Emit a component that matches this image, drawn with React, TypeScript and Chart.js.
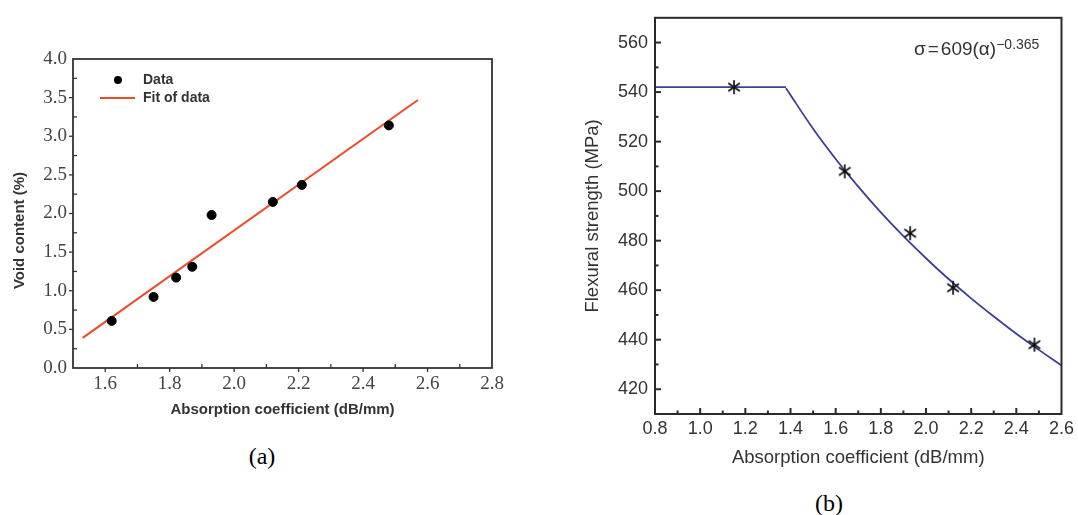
import React, { useEffect, useRef } from 'react';
import { Chart, registerables } from 'chart.js';
Chart.register(...registerables);

// ---------- Panel (a): void content vs absorption coefficient ----------
const voidAbsorption = [1.62, 1.75, 1.82, 1.87, 1.93, 2.12, 2.21, 2.48];
const voidContent = [0.61, 0.92, 1.17, 1.31, 1.98, 2.15, 2.37, 3.14];
const fitAbsorption = [1.53, 2.57];
const fitVoid = [0.39, 3.47];
const voidXTicks = [1.6, 1.8, 2.0, 2.2, 2.4, 2.6, 2.8];
const voidYTicks = [0, 0.5, 1.0, 1.5, 2.0, 2.5, 3.0, 3.5, 4.0];

// ---------- Panel (b): flexural strength vs absorption coefficient ----------
const strengthAbsorption = [1.15, 1.64, 1.93, 2.12, 2.48];
const strengthValues = [542, 508, 483, 461, 438];
const plateauAbsorption = [0.8, 1.38];
const plateauStrength = [542, 542];
const curveAbsorption = [1.38, 1.5, 1.6, 1.7, 1.8, 1.9, 2.0, 2.1, 2.2, 2.3, 2.4, 2.5, 2.6];
const curveStrength = [541.6, 525.2, 513.0, 501.8, 491.4, 481.8, 472.9, 464.5, 456.7, 449.4, 442.4, 435.9, 429.6];
const strengthXTicks = [0.8, 1.0, 1.2, 1.4, 1.6, 1.8, 2.0, 2.2, 2.4, 2.6];
const strengthYTicks = [420, 440, 460, 480, 500, 520, 540, 560];

const pts = (xs: number[], ys: number[]) => xs.map((x, i) => ({ x, y: ys[i] }));

type TickSpec = { step: number; majorEvery: number; majorLen: number; minorLen: number; majorOut: boolean; minorOut: boolean };

function framePlugin(id: string, color: string, width: number, xs: TickSpec, ys: TickSpec, tickWidth: number) {
  return {
    id,
    afterDraw(chart: any) {
      const { ctx, chartArea: a, scales } = chart;
      ctx.save();
      ctx.strokeStyle = color;
      ctx.lineWidth = tickWidth;
      ctx.lineCap = 'butt';
      const xsScale = scales.x;
      const ysScale = scales.y;
      const i0 = Math.ceil(xsScale.min / xs.step - 1e-6);
      const i1 = Math.floor(xsScale.max / xs.step + 1e-6);
      for (let i = i0; i <= i1; i++) {
        const v = i * xs.step;
        const px = xsScale.getPixelForValue(v);
        if (px <= a.left + 1 || px >= a.right - 1) continue;
        const major = i % xs.majorEvery === 0;
        const len = major ? xs.majorLen : xs.minorLen;
        const out = major ? xs.majorOut : xs.minorOut;
        ctx.beginPath();
        ctx.moveTo(px, a.bottom);
        ctx.lineTo(px, out ? a.bottom + len : a.bottom - len);
        ctx.stroke();
      }
      const j0 = Math.ceil(ysScale.min / ys.step - 1e-6);
      const j1 = Math.floor(ysScale.max / ys.step + 1e-6);
      for (let j = j0; j <= j1; j++) {
        const v = j * ys.step;
        const py = ysScale.getPixelForValue(v);
        if (py <= a.top + 1 || py >= a.bottom - 1) continue;
        const major = j % ys.majorEvery === 0;
        const len = major ? ys.majorLen : ys.minorLen;
        const out = major ? ys.majorOut : ys.minorOut;
        ctx.beginPath();
        ctx.moveTo(a.left, py);
        ctx.lineTo(out ? a.left - len : a.left + len, py);
        ctx.stroke();
      }
      ctx.lineWidth = width;
      ctx.strokeRect(a.left, a.top, a.right - a.left, a.bottom - a.top);
      ctx.restore();
    },
  };
}

const legendA = {
  id: 'legendA',
  afterDraw(chart: any) {
    const { ctx, chartArea: a } = chart;
    const ds = chart.data.datasets;
    ctx.save();
    ctx.fillStyle = ds[0].backgroundColor;
    ctx.beginPath();
    ctx.arc(a.left + 45, a.top + 21, 4, 0, Math.PI * 2);
    ctx.fill();
    ctx.strokeStyle = ds[1].borderColor;
    ctx.lineWidth = 2;
    ctx.beginPath();
    ctx.moveTo(a.left + 27, a.top + 39);
    ctx.lineTo(a.left + 62, a.top + 39);
    ctx.stroke();
    ctx.fillStyle = '#333';
    ctx.font = 'bold 14px "Liberation Sans", Arial, sans-serif';
    ctx.textBaseline = 'middle';
    ctx.fillText(ds[0].label, a.left + 70, a.top + 21);
    ctx.fillText(ds[1].label, a.left + 70, a.top + 39);
    // y axis title (sits slightly below the axis centre, as in the original)
    ctx.translate(20, a.top + (a.bottom - a.top) * 0.555);
    ctx.rotate(-Math.PI / 2);
    ctx.textAlign = 'center';
    ctx.font = 'bold 15px "Liberation Sans", Arial, sans-serif';
    ctx.fillText('Void content (%)', 0, 0);
    ctx.restore();
  },
};

function makeAsterisk(size: number, color: string, lw: number) {
  const c = document.createElement('canvas');
  c.width = size;
  c.height = size;
  const g = c.getContext('2d')!;
  const r = size / 2 - 1;
  const cx = size / 2;
  const cy = size / 2;
  g.strokeStyle = color;
  g.lineWidth = lw;
  g.lineCap = 'butt';
  const angles = [90, 35, -35];
  for (const deg of angles) {
    const t = (deg * Math.PI) / 180;
    g.beginPath();
    g.moveTo(cx - r * Math.cos(t), cy - r * Math.sin(t));
    g.lineTo(cx + r * Math.cos(t), cy + r * Math.sin(t));
    g.stroke();
  }
  return c;
}

export default function App() {
  const refA = useRef<HTMLCanvasElement>(null);
  const refB = useRef<HTMLCanvasElement>(null);

  useEffect(() => {
    document.body.style.margin = '0';
    const serifTick = { family: '"Liberation Serif", "Times New Roman", serif', size: 19 };
    const sansBold = { family: '"Liberation Sans", Arial, sans-serif', size: 15, weight: 'bold' as const };

    const chartA = new Chart(refA.current!, {
      type: 'scatter',
      data: {
        datasets: [
          {
            label: 'Data',
            data: pts(voidAbsorption, voidContent),
            backgroundColor: '#000',
            borderColor: '#000',
            pointRadius: 4.5,
            showLine: false,
          },
          {
            label: 'Fit of data',
            data: pts(fitAbsorption, fitVoid),
            borderColor: '#ec4a2c',
            backgroundColor: '#ec4a2c',
            borderWidth: 2,
            pointRadius: 0,
            showLine: true,
          },
        ],
      },
      options: {
        animation: false,
        responsive: false,
        devicePixelRatio: 1,
        layout: { padding: { left: 0, right: 48, top: 59, bottom: 0 } },
        plugins: { legend: { display: false }, tooltip: { enabled: false } },
        scales: {
          x: {
            type: 'linear',
            min: 1.5,
            max: 2.8,
            afterBuildTicks: (s: any) => { s.ticks = voidXTicks.map((value) => ({ value })); },
            afterFit: (s: any) => { s.height = 62; },
            grid: { display: false, drawTicks: false },
            border: { display: false },
            ticks: { font: serifTick, color: '#444', padding: 5, maxRotation: 0, autoSkip: false, callback: (v: any) => Number(v).toFixed(1) },
            title: { display: true, text: 'Absorption coefficient (dB/mm)', font: sansBold, color: '#333', padding: { top: 0, bottom: 11 } },
          },
          y: {
            type: 'linear',
            min: 0,
            max: 4,
            afterBuildTicks: (s: any) => { s.ticks = voidYTicks.map((value) => ({ value })); },
            afterFit: (s: any) => { s.width = 73; },
            grid: { display: false, drawTicks: false },
            border: { display: false },
            ticks: { font: serifTick, color: '#444', padding: 6, autoSkip: false, callback: (v: any) => Number(v).toFixed(1) },
            title: { display: false },
          },
        },
      },
      plugins: [
        framePlugin('frameA', '#333', 1.8, { step: 0.1, majorEvery: 2, majorLen: 4, minorLen: 4, majorOut: true, minorOut: false }, { step: 0.25, majorEvery: 2, majorLen: 4, minorLen: 4, majorOut: true, minorOut: false }, 1.3),
        legendA,
      ],
    } as any);

    const sansTick = { family: '"Liberation Sans", Arial, sans-serif', size: 18 };
    const sansTitle = { family: '"Liberation Sans", Arial, sans-serif', size: 18.5 };
    const asterisk = makeAsterisk(16, '#111', 1.7);

    const chartB = new Chart(refB.current!, {
      type: 'scatter',
      data: {
        datasets: [
          {
            label: 'Measured',
            data: pts(strengthAbsorption, strengthValues),
            pointStyle: asterisk,
            pointRadius: 8,
            borderColor: '#111',
            backgroundColor: '#111',
            showLine: false,
          },
          {
            label: 'Plateau',
            data: pts(plateauAbsorption, plateauStrength),
            borderColor: '#3b3f96',
            borderWidth: 1.8,
            pointRadius: 0,
            showLine: true,
          },
          {
            label: 'Power law',
            data: pts(curveAbsorption, curveStrength),
            borderColor: '#3b3f96',
            borderWidth: 1.8,
            pointRadius: 0,
            showLine: true,
            tension: 0.4,
          },
        ],
      },
      options: {
        animation: false,
        responsive: false,
        devicePixelRatio: 1,
        layout: { padding: { left: 0, right: 15, top: 15, bottom: 0 } },
        plugins: { legend: { display: false }, tooltip: { enabled: false } },
        scales: {
          x: {
            type: 'linear',
            min: 0.8,
            max: 2.6,
            afterBuildTicks: (s: any) => { s.ticks = strengthXTicks.map((value) => ({ value })); },
            afterFit: (s: any) => { s.height = 66; },
            grid: { display: false, drawTicks: false },
            border: { display: false },
            ticks: { font: sansTick, color: '#333', padding: 4, maxRotation: 0, autoSkip: false, callback: (v: any) => Number(v).toFixed(1) },
            title: { display: true, text: 'Absorption coefficient (dB/mm)', font: sansTitle, color: '#333', padding: { top: 0, bottom: 11 } },
          },
          y: {
            type: 'linear',
            min: 410,
            max: 570,
            afterBuildTicks: (s: any) => { s.ticks = strengthYTicks.map((value) => ({ value })); },
            afterFit: (s: any) => { s.width = 115; },
            grid: { display: false, drawTicks: false },
            border: { display: false },
            ticks: { font: sansTick, color: '#333', padding: 7, autoSkip: false, callback: (v: any) => String(v) },
            title: { display: true, text: 'Flexural strength (MPa)', font: sansTitle, color: '#333', padding: { top: 42, bottom: 0 } },
          },
        },
      },
      plugins: [
        framePlugin('frameB', '#2a2a2a', 2, { step: 0.1, majorEvery: 2, majorLen: 6, minorLen: 3.5, majorOut: false, minorOut: false }, { step: 10, majorEvery: 2, majorLen: 6, minorLen: 3.5, majorOut: false, minorOut: false }, 2),
      ],
    } as any);

    return () => {
      chartA.destroy();
      chartB.destroy();
    };
  }, []);

  return (
    <div style={{ position: 'relative', width: 1078, height: 515, background: '#fff', overflow: 'hidden' }}>
      <canvas ref={refA} width={540} height={430} style={{ position: 'absolute', left: 0, top: 0, width: 540, height: 430 }} />
      <canvas ref={refB} width={538} height={480} style={{ position: 'absolute', left: 540, top: 0, width: 538, height: 480 }} />
      <div style={{ position: 'absolute', left: 232, top: 442, width: 60, textAlign: 'center', fontFamily: '"Liberation Serif", "Times New Roman", serif', fontSize: 24, lineHeight: '28px', color: '#000' }}>(a)</div>
      <div style={{ position: 'absolute', left: 799, top: 489, width: 60, textAlign: 'center', fontFamily: '"Liberation Serif", "Times New Roman", serif', fontSize: 24, lineHeight: '28px', color: '#000' }}>(b)</div>
      <div style={{ position: 'absolute', left: 914, top: 38, fontFamily: '"Liberation Sans", Arial, sans-serif', fontSize: 19, lineHeight: '22px', color: '#333', whiteSpace: 'nowrap' }}>
        σ<span style={{ margin: '0 2px' }}>=</span>609(α)<sup style={{ fontSize: 14, verticalAlign: 'top', position: 'relative', top: -5 }}>−0.365</sup>
      </div>
    </div>
  );
}
